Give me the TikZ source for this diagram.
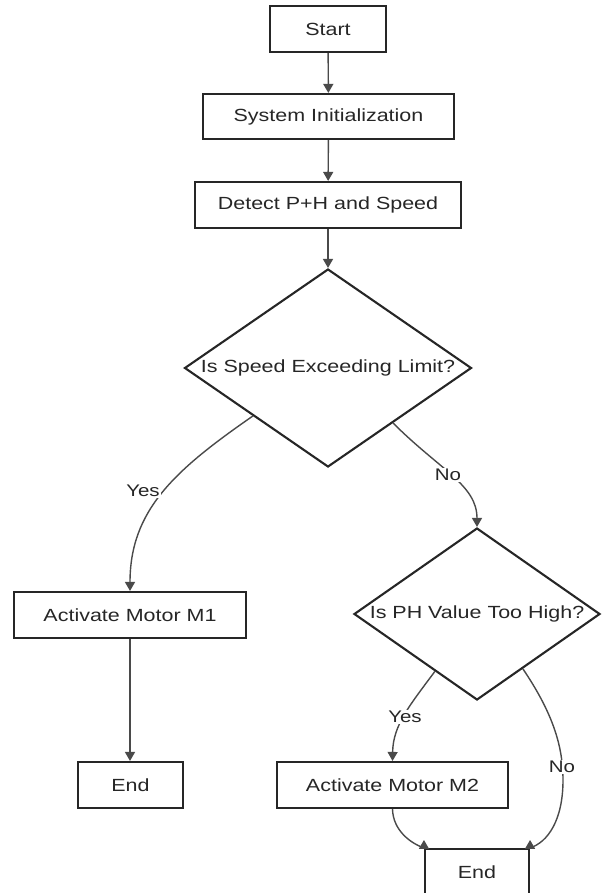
\documentclass[tikz,border=0pt]{standalone}
\usepackage{fontspec}
\setmainfont{Liberation Sans}[FakeStretch=1.22]
\usetikzlibrary{shapes.geometric,arrows.meta,calc}
\definecolor{ink}{HTML}{262626}
\definecolor{wire}{HTML}{4A4A4A}

\begin{document}
\begin{tikzpicture}[x=1pt,y=-1pt,
  every node/.style={text=ink, font=\fontsize{17.6}{20}\selectfont},
  stepbox/.style={draw=ink, line width=2.1pt, rectangle, inner sep=0pt},
  choice/.style={draw=ink, line width=2.1pt, diamond, inner sep=0pt},
  flow/.style={draw=wire, line width=1.4pt, -{Triangle[length=9pt,width=10pt]}},
  tag/.style={fill=white, inner sep=1pt, font=\fontsize{16.8}{19}\selectfont},
]
\clip (0,0) rectangle (606,893);

% process steps
\node[stepbox, minimum width=116pt, minimum height=46pt] (start)  at (328,29)    {Start};
\node[stepbox, minimum width=251pt, minimum height=45pt] (init)   at (328.5,116.5) {System Initialization};
\node[stepbox, minimum width=266pt, minimum height=46pt] (detect) at (328,205)   {Detect P+H and Speed};
\node[choice, minimum width=287pt, minimum height=198pt] (speed)  at (328,368)   {\makebox[0pt]{Is Speed Exceeding Limit?}};
\node[stepbox, minimum width=232pt, minimum height=46pt] (m1)     at (130,615)   {Activate Motor M1};
\node[stepbox, minimum width=105pt, minimum height=46pt] (end1)   at (130.5,785) {End};
\node[choice, minimum width=246pt, minimum height=172pt] (ph)     at (477,614)   {\makebox[0pt]{Is PH Value Too High?}};
\node[stepbox, minimum width=231pt, minimum height=46pt] (m2)     at (392.5,785) {Activate Motor M2};
\node[stepbox, minimum width=104pt, minimum height=46pt] (end2)   at (477,872)   {End};

% main line
\draw[flow] (start) -- (init);
\draw[flow] (init) -- (detect);
\draw[flow] (detect) -- (speed);

% speed decision
\draw[flow] ($(speed.west)!0.48!(speed.south)$) .. controls (175,470) and (130,510) .. (m1.north);
\draw[flow] ($(speed.east)!0.55!(speed.south)$) .. controls (440,470) and (477,485) .. (ph.north);
\draw[flow] (m1.south) -- (m1.south |- end1.north);

% pH decision
\draw[flow] ($(ph.west)!0.66!(ph.south)$) .. controls (410,705) and (393,725) .. (m2.north);
\draw[flow] (m2.south) .. controls (393,830) and (410,843) .. (end2.north west) -- ++(0,-8);
\draw[flow] ($(ph.east)!0.63!(ph.south)$) .. controls (552,712) and (563,745) .. (563,780)
  .. controls (563,820) and (548,842) .. (end2.north east) -- ++(0,-8);

% branch labels
\node[tag] (yes1) at (143,491) {Yes};
\node[tag] (no1)  at (448,475) {No};
\node[tag] (yes2) at (405,717) {Yes};
\node[tag] (no2)  at (562,767) {No};
\end{tikzpicture}
\end{document}
